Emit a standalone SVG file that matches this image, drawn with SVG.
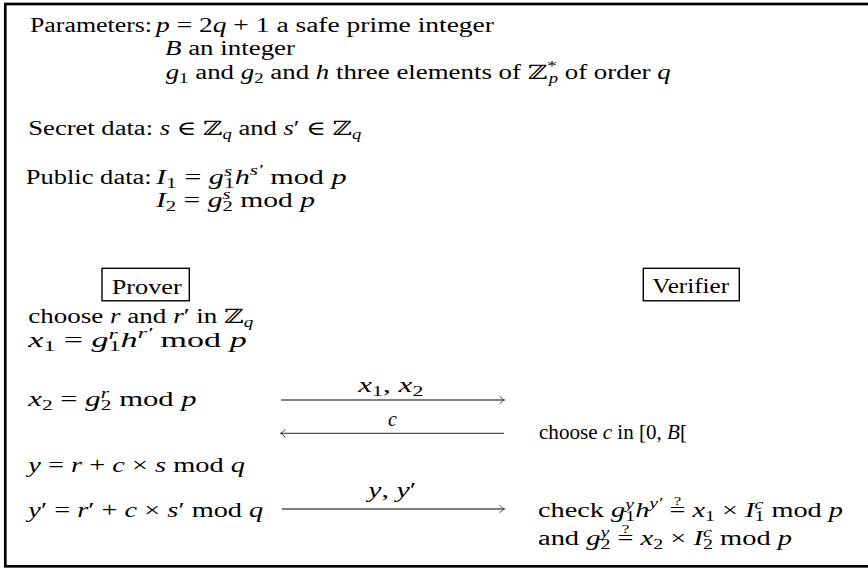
<svg xmlns="http://www.w3.org/2000/svg" width="868" height="568" viewBox="0 0 868 568">
<style>
.t{font-family:"Liberation Serif","DejaVu Serif",serif;font-size:20px;fill:#000}
.i{font-style:italic}
.s{font-size:14px}
.q{font-size:12px}
.box{fill:none;stroke:#000;stroke-width:1.4}
.arr{fill:none;stroke:#555;stroke-width:1.3}
</style>
<defs>
<marker id="head" markerUnits="userSpaceOnUse" viewBox="-7 -5 8 10" refX="0" refY="0" markerWidth="8" markerHeight="10" orient="auto">
<path d="M-5,-4 Q-2,-0.8 0,0 Q-2,0.8 -5,4" fill="none" stroke="#444" stroke-width="1"/>
</marker>
</defs>
<rect x="5.3" y="4" width="880" height="562.3" fill="none" stroke="#000" stroke-width="2.7"/>

<g id="parameters">
<text class="t" x="30" y="31.5" textLength="122" lengthAdjust="spacingAndGlyphs">Parameters:</text>
<text class="t" x="156" y="31.5" textLength="338" lengthAdjust="spacingAndGlyphs"><tspan class="i">p</tspan> = 2<tspan class="i">q</tspan> + 1 a safe prime integer</text>
<text class="t" x="165" y="54.5" textLength="130" lengthAdjust="spacingAndGlyphs"><tspan class="i">B</tspan> an integer</text>
<text class="t" x="165.7" y="78.5" textLength="505" lengthAdjust="spacingAndGlyphs"><tspan class="i">g</tspan><tspan class="s" dy="4">1</tspan><tspan dy="-4"> and </tspan><tspan class="i">g</tspan><tspan class="s" dy="4">2</tspan><tspan dy="-4"> and </tspan><tspan class="i">h</tspan> three elements of ℤ<tspan class="s" dy="-8">*</tspan><tspan class="s i" dx="-6" dy="12">p</tspan><tspan dy="-4"> of order </tspan><tspan class="i">q</tspan></text>
</g>

<g id="secret">
<text class="t" x="28.3" y="135" textLength="333" lengthAdjust="spacingAndGlyphs">Secret data: <tspan class="i">s</tspan> ∈ ℤ<tspan class="s i" dy="4">q</tspan><tspan dy="-4"> and </tspan><tspan class="i">s</tspan>′ ∈ ℤ<tspan class="s i" dy="4">q</tspan></text>
</g>

<g id="public">
<text class="t" x="25.7" y="184" textLength="126" lengthAdjust="spacingAndGlyphs">Public data:</text>
<text class="t" x="156" y="184" textLength="190.7" lengthAdjust="spacingAndGlyphs"><tspan class="i">I</tspan><tspan class="s" dy="4">1</tspan><tspan dy="-4"> = </tspan><tspan class="i">g</tspan><tspan class="s i" dy="-8">s</tspan><tspan class="s" dx="-5.4" dy="12">1</tspan><tspan class="i" dy="-4">h</tspan><tspan class="s i" dy="-9">s′</tspan><tspan dy="9"> mod </tspan><tspan class="i">p</tspan></text>
<text class="t" x="156" y="206.7" textLength="159" lengthAdjust="spacingAndGlyphs"><tspan class="i">I</tspan><tspan class="s" dy="4">2</tspan><tspan dy="-4"> = </tspan><tspan class="i">g</tspan><tspan class="s i" dy="-8">s</tspan><tspan class="s" dx="-5.4" dy="12">2</tspan><tspan dy="-4"> mod </tspan><tspan class="i">p</tspan></text>
</g>

<g id="prover">
<rect class="box" x="102" y="268.3" width="87.3" height="32.5"/>
<text class="t" x="111.7" y="294.3" textLength="70" lengthAdjust="spacingAndGlyphs">Prover</text>
</g>

<g id="verifier">
<rect class="box" x="643.3" y="268.3" width="96" height="32.5"/>
<text class="t" x="652.3" y="293.3" textLength="76.7" lengthAdjust="spacingAndGlyphs">Verifier</text>
</g>

<g id="prover-steps">
<text class="t" x="28.3" y="323.3" textLength="225" lengthAdjust="spacingAndGlyphs">choose <tspan class="i">r</tspan> and <tspan class="i">r</tspan>′ in ℤ<tspan class="s i" dy="4">q</tspan></text>
<text class="t" x="28.3" y="347.3" textLength="218.4" lengthAdjust="spacingAndGlyphs"><tspan class="i">x</tspan><tspan class="s" dy="4">1</tspan><tspan dy="-4"> = </tspan><tspan class="i">g</tspan><tspan class="s i" dy="-8">r</tspan><tspan class="s" dx="-5.4" dy="12">1</tspan><tspan class="i" dy="-4">h</tspan><tspan class="s i" dy="-9">r′</tspan><tspan dy="9"> mod </tspan><tspan class="i">p</tspan></text>
<text class="t" x="28.3" y="405.5" textLength="168.4" lengthAdjust="spacingAndGlyphs"><tspan class="i">x</tspan><tspan class="s" dy="4">2</tspan><tspan dy="-4"> = </tspan><tspan class="i">g</tspan><tspan class="s i" dy="-8">r</tspan><tspan class="s" dx="-5.4" dy="12">2</tspan><tspan dy="-4"> mod </tspan><tspan class="i">p</tspan></text>
<text class="t" x="28.3" y="471.7" textLength="216.7" lengthAdjust="spacingAndGlyphs"><tspan class="i">y</tspan> = <tspan class="i">r</tspan> + <tspan class="i">c</tspan> × <tspan class="i">s</tspan> mod <tspan class="i">q</tspan></text>
<text class="t" x="28.3" y="517" textLength="235" lengthAdjust="spacingAndGlyphs"><tspan class="i">y</tspan>′ = <tspan class="i">r</tspan>′ + <tspan class="i">c</tspan> × <tspan class="i">s</tspan>′ mod <tspan class="i">q</tspan></text>
</g>

<g id="verifier-steps">
<text class="t" x="539" y="438.5" textLength="148" lengthAdjust="spacingAndGlyphs">choose <tspan class="i">c</tspan> in [0, <tspan class="i">B</tspan>[</text>
<text class="t" x="538" y="517" textLength="305" lengthAdjust="spacingAndGlyphs">check <tspan class="i">g</tspan><tspan class="s i" dy="-8">y</tspan><tspan class="s" dx="-6.2" dy="12">1</tspan><tspan class="i" dy="-4">h</tspan><tspan class="s i" dy="-9">y′</tspan><tspan dy="9"> </tspan><tspan class="q" dx="3" dy="-12">?</tspan><tspan dx="-8.4" dy="12">= </tspan><tspan class="i">x</tspan><tspan class="s" dy="4">1</tspan><tspan dy="-4"> × </tspan><tspan class="i">I</tspan><tspan class="s i" dy="-8">c</tspan><tspan class="s" dx="-6.2" dy="12">1</tspan><tspan dy="-4"> mod </tspan><tspan class="i">p</tspan></text>
<text class="t" x="538" y="545" textLength="254" lengthAdjust="spacingAndGlyphs">and <tspan class="i">g</tspan><tspan class="s i" dy="-8">y</tspan><tspan class="s" dx="-6.2" dy="12">2</tspan><tspan dy="-4"> </tspan><tspan class="q" dx="3" dy="-12">?</tspan><tspan dx="-8.4" dy="12">= </tspan><tspan class="i">x</tspan><tspan class="s" dy="4">2</tspan><tspan dy="-4"> × </tspan><tspan class="i">I</tspan><tspan class="s i" dy="-8">c</tspan><tspan class="s" dx="-6.2" dy="12">2</tspan><tspan dy="-4"> mod </tspan><tspan class="i">p</tspan></text>
</g>

<g id="connectors">
<path class="arr" d="M281,400 H504.5" marker-end="url(#head)"/>
<text class="t" x="358.3" y="391.7" textLength="65" lengthAdjust="spacingAndGlyphs"><tspan class="i">x</tspan><tspan class="s" dy="4">1</tspan><tspan dy="-4">, </tspan><tspan class="i">x</tspan><tspan class="s" dy="4">2</tspan></text>
<path class="arr" d="M504,433.3 H280.5" marker-end="url(#head)"/>
<text class="t i" x="392.5" y="425.5" text-anchor="middle">c</text>
<path class="arr" d="M282,509 H504.5" marker-end="url(#head)"/>
<text class="t" x="368.3" y="497" textLength="48" lengthAdjust="spacingAndGlyphs"><tspan class="i">y</tspan>, <tspan class="i">y</tspan>′</text>
</g>
</svg>
